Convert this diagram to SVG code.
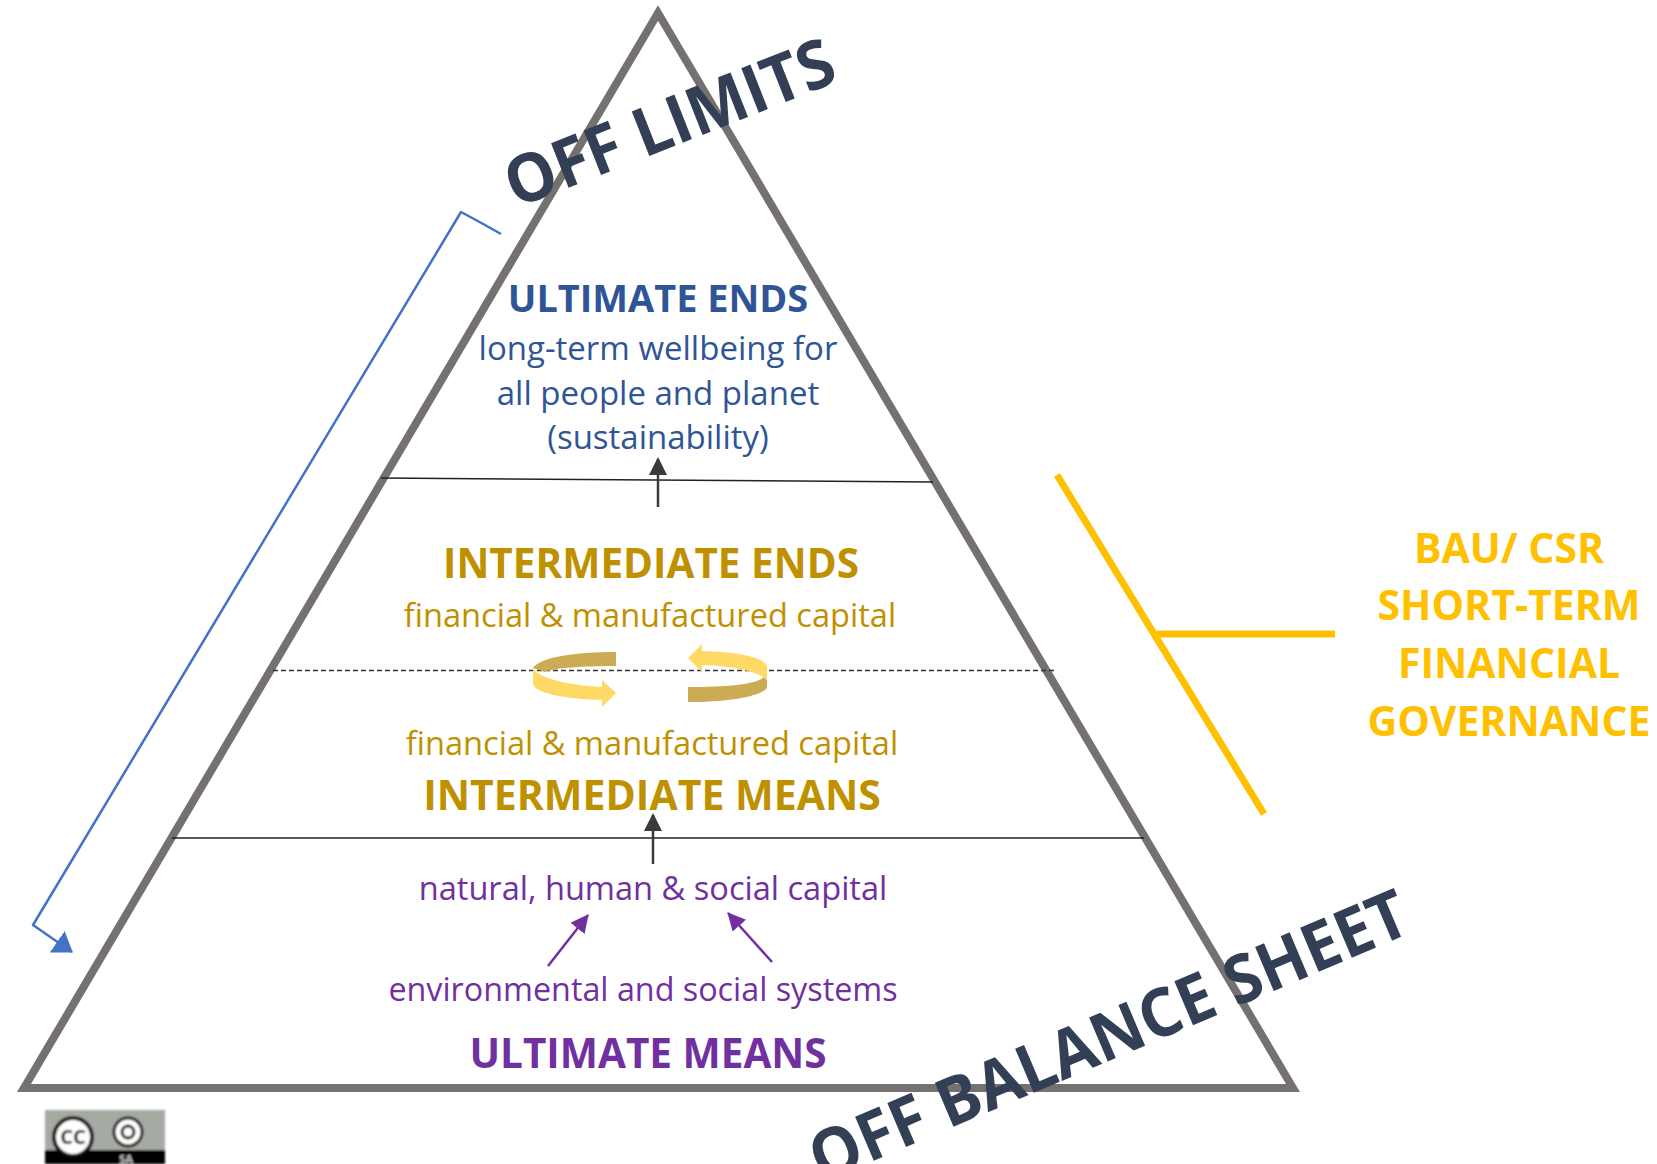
<svg xmlns="http://www.w3.org/2000/svg" width="1657" height="1164" viewBox="0 0 1657 1164">
<style>
text{font-family:"Open Sans","Noto Sans","Liberation Sans",sans-serif;text-anchor:middle}
.h{font-weight:700;font-size:40.500px}
.t{font-size:32.600px}
.blue{fill:#2f5597}.gold{fill:#bf9000}.pur{fill:#7030a0}.yel{fill:#ffc000;font-weight:700;font-size:41px}
.dk{fill:#323f55;font-weight:700;font-size:67px}
.thin{stroke:#222;stroke-width:1.500;fill:none}
</style>
<defs>
<marker id="ab" markerUnits="userSpaceOnUse" markerWidth="18" markerHeight="20" refX="16" refY="9" orient="auto"><path d="M0 0L18 9L0 18Z" fill="#3a3a3a"/></marker>
<marker id="ap" markerUnits="userSpaceOnUse" markerWidth="20" markerHeight="20" refX="17" refY="9" orient="auto"><path d="M0 0L18 9L0 18Z" fill="#7030a0"/></marker>
<marker id="abl" markerUnits="userSpaceOnUse" markerWidth="20" markerHeight="28" refX="18" refY="13" orient="auto"><path d="M0 0L19 13L0 26Z" fill="#4472c4"/></marker>
<filter id="soft" x="-5%" y="-5%" width="110%" height="110%"><feGaussianBlur stdDeviation="0.800"/></filter>
</defs>
<g id="pyramid"><path d="M658 13L24 1088H1293Z" fill="none" stroke="#767171" stroke-width="8"/></g>
<g id="dividers">
<path class="thin" d="M381 478L933 482"/>
<path class="thin" d="M172 838H1144"/>
<path d="M273 670.500H1055" fill="none" stroke="#333" stroke-width="1.500" stroke-dasharray="5 3"/>
</g>
<g id="connectors">
<path d="M658 507V459" stroke="#3a3a3a" stroke-width="2.500" fill="none" marker-end="url(#ab)"/>
<path d="M653 864V815" stroke="#3a3a3a" stroke-width="2.500" fill="none" marker-end="url(#ab)"/>
<path d="M548 966L588 915" stroke="#7030a0" stroke-width="2.500" fill="none" marker-end="url(#ap)"/>
<path d="M772 962L728 913" stroke="#7030a0" stroke-width="2.500" fill="none" marker-end="url(#ap)"/>
<path d="M501 234Q480 222 461 212L33 925L72 952" stroke="#4472c4" stroke-width="2.500" stroke-linejoin="round" fill="none" marker-end="url(#abl)"/>
</g>
<g id="cycle">
<path d="M533 668C540 657 575 652 616 652V666C585 666 552 668 545 672Z" fill="#ccab55"/>
<path d="M533 668C538 679 575 686 602 687V680L616 693L602 707V700C565 699 533 693 533 683Z" fill="#ffd966"/>
<path d="M688 687C725 687 755 685 764 677L767 680V688C760 697 725 702 688 702Z" fill="#ccab55"/>
<path d="M688 658L702 644V651C735 652 762 656 767 666V680C755 670 730 666 702 665V672Z" fill="#ffd966"/>
</g>
<g id="ultimate-ends">
<text class="h blue" style="font-size:37.900px" x="658" y="312">ULTIMATE ENDS</text>
<text class="t blue" style="font-size:33px" x="658" y="360">long-term wellbeing for</text>
<text class="t blue" style="font-size:33px" x="658" y="405">all people and planet</text>
<text class="t blue" style="font-size:33px" x="658" y="449">(sustainability)</text>
</g>
<g id="intermediate-ends">
<text class="h gold" x="651" y="578">INTERMEDIATE ENDS</text>
<text class="t gold" x="650" y="627">financial &amp; manufactured capital</text>
</g>
<g id="intermediate-means">
<text class="t gold" x="652" y="755">financial &amp; manufactured capital</text>
<text class="h gold" style="font-size:41px" x="652" y="810">INTERMEDIATE MEANS</text>
</g>
<g id="ultimate-means">
<text class="t pur" x="653" y="900">natural, human &amp; social capital</text>
<text class="t pur" style="font-size:32.300px" x="643" y="1001">environmental and social systems</text>
<text class="h pur" x="648" y="1068">ULTIMATE MEANS</text>
</g>
<g id="bracket"><path d="M1057 475L1264 814M1157 634H1335" fill="none" stroke="#ffc000" stroke-width="7"/></g>
<g id="bau">
<text class="yel" x="1509" y="563">BAU/ CSR</text>
<text class="yel" x="1509" y="620">SHORT-TERM</text>
<text class="yel" x="1509" y="678">FINANCIAL</text>
<text class="yel" x="1509" y="736">GOVERNANCE</text>
</g>
<g id="off-limits"><text class="dk" transform="translate(670 124) rotate(-21.500) scale(0.955 1)" x="0" y="22">OFF LIMITS</text></g>
<g id="off-balance"><text class="dk" transform="translate(1109 1037) rotate(-23) scale(0.955 1)" x="0" y="22">OFF BALANCE SHEET</text></g>
<g id="cc-badge" filter="url(#soft)">
<rect x="45" y="1110" width="120" height="54" fill="#a5aaa3"/>
<rect x="45" y="1150" width="120" height="14" fill="#000"/>
<circle cx="73" cy="1137" r="19" fill="#fff" stroke="#111" stroke-width="4"/>
<text x="73" y="1144" font-size="20" font-weight="700" fill="#111">CC</text>
<circle cx="128" cy="1132" r="14" fill="#fff" stroke="#111" stroke-width="3"/>
<circle cx="128" cy="1132" r="6" fill="none" stroke="#111" stroke-width="3"/>
<text x="126" y="1163" font-size="11" font-weight="700" fill="#ccc">SA</text>
</g>
</svg>
